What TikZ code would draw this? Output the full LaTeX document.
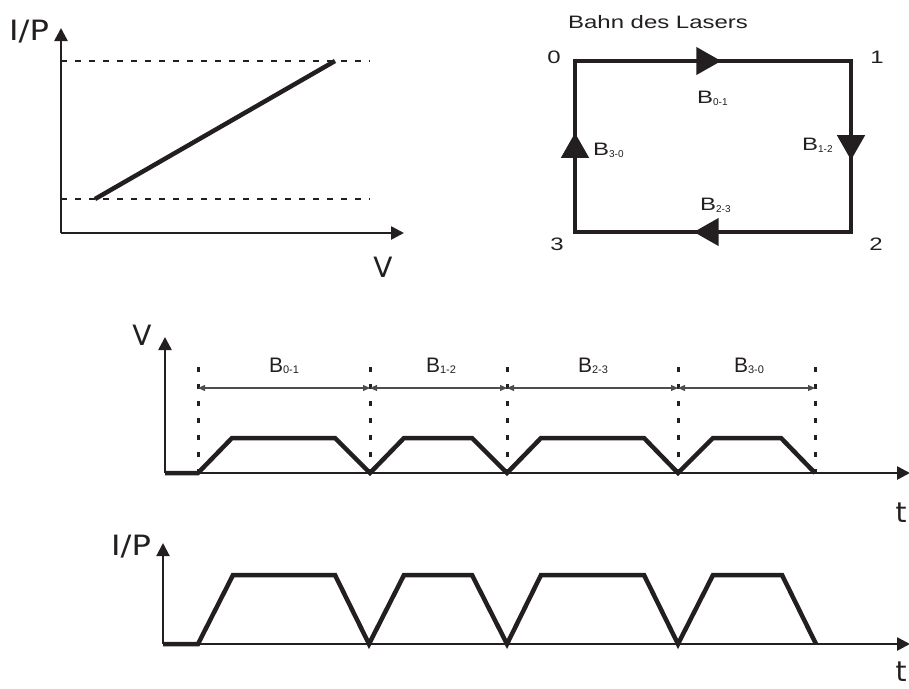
\documentclass[tikz,border=0pt]{standalone}
\usepackage{fontspec}
\setmainfont{Liberation Sans}
\newfontfamily\axisfont{DejaVu Sans}
\usetikzlibrary{arrows.meta,decorations.markings}
\definecolor{LaserInk}{HTML}{231F20}
\newcommand{\wideB}[1]{\scalebox{1.33}[1]{B}\raisebox{-2pt}{\fontsize{10}{10}\selectfont #1}}
\newcommand{\spanB}[1]{B\raisebox{-1.5pt}{\fontsize{11}{11}\selectfont #1}}

\begin{document}
\begin{tikzpicture}[x=1pt,y=-1pt,
  axis/.style={draw=LaserInk,line width=2.6pt,-{Triangle[length=13pt,width=13pt]}},
  curve/.style={draw=LaserInk,line width=4.5pt,line join=miter},
  guide/.style={draw=LaserInk,line width=1.8pt,dash pattern=on 6pt off 8pt},
  marker/.style={draw=LaserInk,line width=3pt,dash pattern=on 5pt off 12pt},
  span/.style={draw=LaserInk!80,line width=1.1pt,{Triangle[length=7pt,width=6pt]}-{Triangle[length=7pt,width=6pt]}},
  track/.style={draw=LaserInk,line width=4.5pt,line cap=rect,postaction={decorate},
    decoration={markings,mark=at position #1 with {\arrow{Triangle[length=25pt,width=27pt]}}}},
  axislabel/.style={font=\axisfont\fontsize{28}{30}\selectfont,text=LaserInk,inner sep=0pt},
  corner/.style={font=\fontsize{18}{20}\selectfont,text=LaserInk,inner sep=0pt},
  spanlabel/.style={font=\fontsize{21}{22}\selectfont,text=LaserInk,inner sep=0pt}]
  \useasboundingbox (0,0) rectangle (909,688);

  \coordinate (kO) at (61,233);
  \coordinate (kY) at (61,28);
  \coordinate (kX) at (404,233);
  \coordinate (kLo) at (95,199);
  \coordinate (kHi) at (335,61);
  \draw[axis] (kO) -- (kY);
  \draw[axis] (kO) -- (kX);
  \draw[guide] (61,61) -- (370,61);
  \draw[guide] (61,199) -- (370,199);
  \draw[curve] (kLo) -- (kHi);
  \node[axislabel,anchor=base west] (kIP) at (9,40) {\scalebox{1.15}[1]{I/P}};
  \node[axislabel,anchor=base] (kV) at (383,277) {V};

  \coordinate (c0) at (575,61);
  \coordinate (c1) at (851,61);
  \coordinate (c2) at (851,232);
  \coordinate (c3) at (575,232);
  \draw[track=0.53] (c0) -- (c1);
  \draw[track=0.58] (c1) -- (c2);
  \draw[track=0.57] (c2) -- (c3);
  \draw[track=0.58] (c3) -- (c0);
  \node[corner,anchor=base west] (bahn) at (568,28) {\scalebox{1.33}[1]{Bahn des Lasers}};
  \node[corner,anchor=base] (n0) at (554,63) {\scalebox{1.33}[1]{0}};
  \node[corner,anchor=base] (n1) at (877,63) {\scalebox{1.33}[1]{1}};
  \node[corner,anchor=base] (n2) at (876,250) {\scalebox{1.33}[1]{2}};
  \node[corner,anchor=base] (n3) at (557,250) {\scalebox{1.33}[1]{3}};
  \node[corner,anchor=base west] (b01) at (697,103) {\wideB{0-1}};
  \node[corner,anchor=base west] (b12) at (802,150) {\wideB{1-2}};
  \node[corner,anchor=base west] (b30) at (593,155) {\wideB{3-0}};
  \node[corner,anchor=base west] (b23) at (700,210) {\wideB{2-3}};

  \coordinate (vO) at (165,473);
  \coordinate (vY) at (165,337);
  \coordinate (vX) at (910,473);
  \draw[axis] (vO) -- (vY);
  \draw[axis] (vO) -- (vX);
  \coordinate (m0) at (198,367);
  \coordinate (m1) at (370,367);
  \coordinate (m2) at (507,367);
  \coordinate (m3) at (678,367);
  \coordinate (m4) at (815,367);
  \draw[marker] (m0) -- (198,473);
  \draw[marker] (m1) -- (370,473);
  \draw[marker] (m2) -- (507,473);
  \draw[marker] (m3) -- (678,473);
  \draw[marker] (m4) -- (815,473);
  \coordinate (s0) at (198,388);
  \coordinate (s1) at (370,388);
  \coordinate (s2) at (507,388);
  \coordinate (s3) at (678,388);
  \coordinate (s4) at (815,388);
  \draw[span] (s0) -- (s1);
  \draw[span] (s1) -- (s2);
  \draw[span] (s2) -- (s3);
  \draw[span] (s3) -- (s4);
  \node[spanlabel,anchor=base] (sb01) at (284,372) {\spanB{0-1}};
  \node[spanlabel,anchor=base] (sb12) at (441,372) {\spanB{1-2}};
  \node[spanlabel,anchor=base] (sb23) at (593,372) {\spanB{2-3}};
  \node[spanlabel,anchor=base] (sb30) at (749,372) {\spanB{3-0}};
  \draw[curve] (vO) -- (198,473) -- (232,438) -- (335,438) -- (370,473) -- (404,438) -- (472,438)
    -- (507,473) -- (541,438) -- (644,438) -- (678,473) -- (713,438) -- (781,438) -- (815,473);
  \node[axislabel,anchor=base] (vV) at (142,345) {V};
  \node[axislabel,anchor=base] (vt) at (901,522) {t};

  \coordinate (pO) at (163,644);
  \coordinate (pY) at (163,543);
  \coordinate (pX) at (910,644);
  \draw[axis,line width=2pt] (pO) -- (pY);
  \draw[axis] (pO) -- (pX);
  \draw[curve] (pO) -- (198,644) -- (233,575) -- (335,575) -- (369,644) -- (404,575) -- (472,575)
    -- (507,644) -- (541,575) -- (644,575) -- (678,644) -- (713,575) -- (782,575) -- (816,644);
  \node[axislabel,anchor=base west] (pIP) at (111,555) {\scalebox{1.15}[1]{I/P}};
  \node[axislabel,anchor=base] (pt) at (901,681) {t};
\end{tikzpicture}
\end{document}
